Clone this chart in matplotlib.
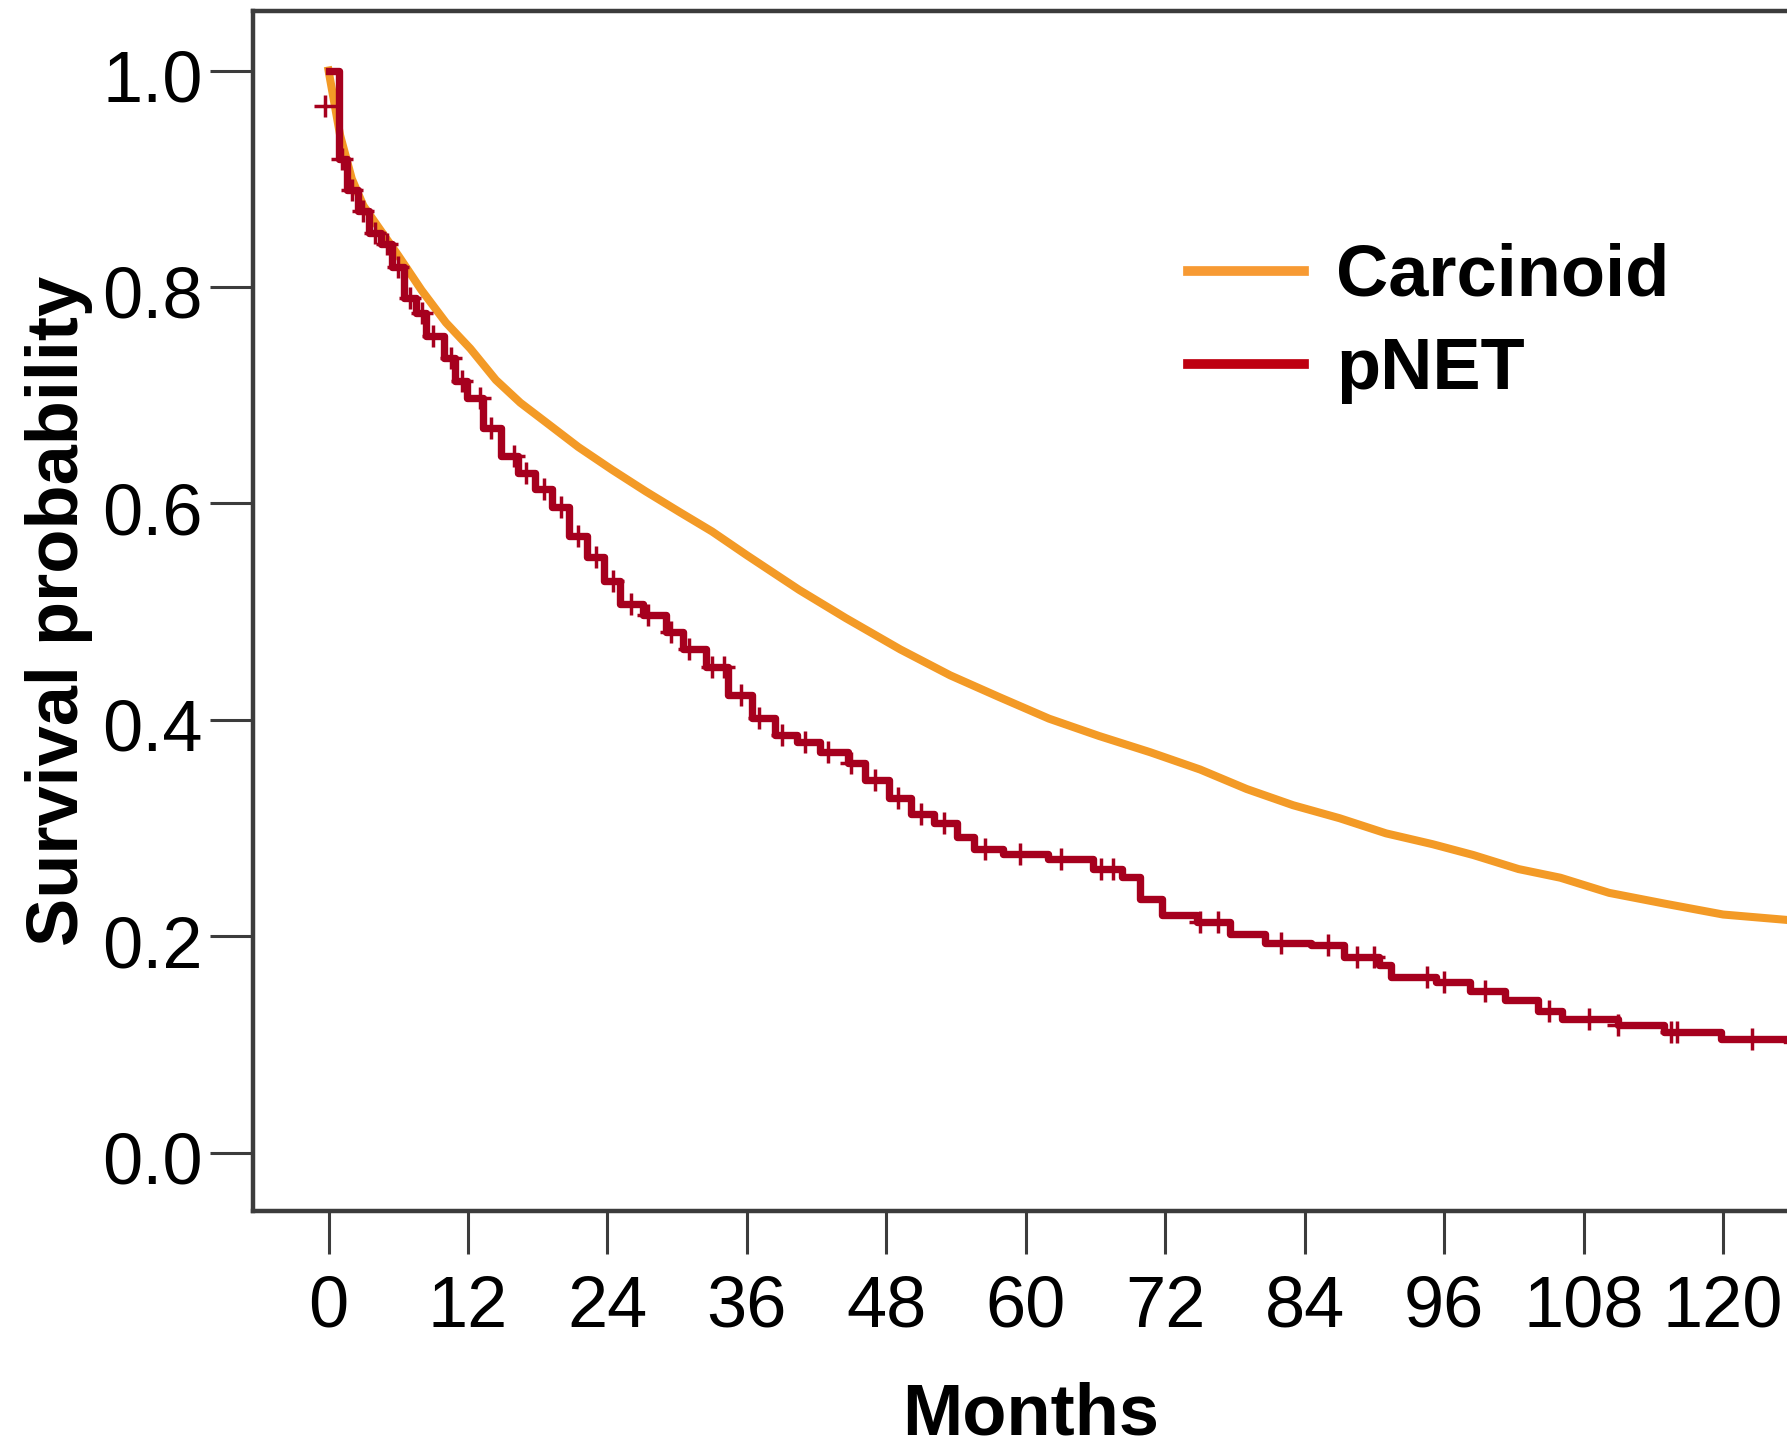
import numpy as np
import matplotlib
matplotlib.use("Agg")
import matplotlib.pyplot as plt
import matplotlib.transforms as mtransforms
from matplotlib.lines import Line2D

plt.rcParams['font.family'] = ['Liberation Sans', 'DejaVu Sans']

# Kaplan-Meier curves (months, survival)
carc_t = [0, 1.0, 2.0, 3.0, 4.5, 6.0, 8.0, 10.1, 12.2, 14.4, 16.5, 18.7, 21.5, 24.4,
          27.3, 30.2, 33.0, 36.0, 40.5, 44.5, 49.2, 53.5, 57.7, 62.0, 66.3, 70.7,
          75.0, 79.0, 83.0, 87.0, 91.0, 95.0, 98.5, 102.4, 106.0, 110.2, 115.0, 120.0,
          125.5]
carc_s = [1.0, 0.94, 0.90, 0.875, 0.852, 0.829, 0.797, 0.767, 0.743, 0.714, 0.693,
          0.675, 0.652, 0.631, 0.611, 0.592, 0.574, 0.552, 0.520, 0.494, 0.465, 0.441,
          0.421, 0.401, 0.385, 0.370, 0.354, 0.336, 0.321, 0.309, 0.295, 0.285, 0.275,
          0.262, 0.254, 0.240, 0.230, 0.220, 0.215]

pnet_t = [0, 0.9, 1.6, 2.5, 3.5, 4.5, 5.5, 6.5, 7.5, 8.4, 9.9, 10.9, 11.9, 13.3, 14.8,
          16.3, 17.8, 19.2, 20.7, 22.2, 23.7, 25.1, 27.1, 29.0, 30.5, 32.5, 34.4, 36.4,
          38.4, 40.3, 42.3, 44.7, 46.2, 48.2, 50.1, 52.1, 54.1, 55.5, 58.0, 61.9, 65.8,
          68.3, 69.8, 71.7, 74.7, 77.6, 80.6, 84.5, 87.4, 90.4, 91.4, 95.3, 98.2, 101.2,
          104.1, 106.1, 111.0, 114.9, 119.8, 125.5]
pnet_s = [1.0, 0.918, 0.89, 0.87, 0.85, 0.84, 0.818, 0.79, 0.776, 0.755, 0.734, 0.713,
          0.697, 0.67, 0.644, 0.628, 0.613, 0.597, 0.57, 0.55, 0.528, 0.507, 0.497, 0.481,
          0.465, 0.449, 0.423, 0.402, 0.386, 0.379, 0.37, 0.36, 0.344, 0.328, 0.313, 0.305,
          0.292, 0.281, 0.276, 0.271, 0.262, 0.255, 0.234, 0.22, 0.213, 0.202, 0.194, 0.192,
          0.181, 0.173, 0.162, 0.158, 0.149, 0.141, 0.131, 0.123, 0.118, 0.111, 0.105, 0.104]

# censored observations (+ marks) on the pNET curve
pnet_cens = [1.2, 2.0, 3.0, 4.0, 5.0, 6.0, 7.0, 8.0, 9.0, 10.5, 11.5, 13.0, 14.0,
             16.0, 17.0, 18.5, 20.0, 21.5, 23.0, 24.5, 26.0, 27.5, 29.5, 31.0, 33.0,
             34.0, 35.5, 37.0, 39.0, 41.0, 43.0, 45.0, 47.0, 49.0, 51.0, 53.0, 56.5,
             59.5, 63.0, 66.5, 67.5, 75.0, 76.5, 82.0, 86.0, 88.5, 90.0, 94.5, 96.0,
             99.5, 105.0, 108.5, 111.0, 115.5, 116.0, 122.5]
# early censored case drawn left of the first drop
pnet_cens0 = (-0.3, 0.967)

xticks = [0, 12, 24, 36, 48, 60, 72, 84, 96, 108, 120]
yticks = [0.0, 0.2, 0.4, 0.6, 0.8, 1.0]

orange = '#F39A26'
red = '#A6001E'
axcol = '#3c3c3c'

fig = plt.figure(figsize=(17.87, 14.53), dpi=100)
ax = fig.add_axes([253 / 1787, 1 - 1211 / 1453, 1 - 253 / 1787, (1211 - 11) / 1453])

ax.plot(carc_t, carc_s, color=orange, lw=5.8)
ax.plot(pnet_t, pnet_s, color=red, lw=5.3, drawstyle='steps-post')

pt = np.array(pnet_t)
ps = np.array(pnet_s)
idx = np.searchsorted(pt, pnet_cens, side='right') - 1
ax.plot(pnet_cens, ps[idx], ls='none', marker='+', ms=16, mew=2.5, color=red)
ax.plot([pnet_cens0[0]], [pnet_cens0[1]], ls='none', marker='+', ms=16, mew=2.5, color=red)

ax.set_xlim(-6.5, 125.5)
ax.set_ylim(-0.054, 1.055)
ax.set_xticks(xticks)
ax.set_yticks(yticks)
ax.set_xticklabels([str(v) for v in xticks])
ax.set_yticklabels(['%.1f' % v for v in yticks])

for side in ['left', 'bottom', 'top']:
    ax.spines[side].set_color(axcol)
    ax.spines[side].set_linewidth(3.2)
ax.spines['right'].set_visible(False)

ax.tick_params(axis='both', direction='out', length=31, width=2.2, color=axcol,
               labelsize=52, labelcolor='black')
ax.tick_params(axis='y', pad=5)
ax.tick_params(axis='x', pad=15)

# y tick labels sit a little below their ticks in the original
shift = mtransforms.ScaledTranslation(0, -0.05, fig.dpi_scale_trans)
for lab in ax.get_yticklabels():
    lab.set_transform(lab.get_transform() + shift)

ax.set_ylabel('Survival probability', fontsize=52, fontweight='bold')
ax.set_xlabel('Months', fontsize=52, fontweight='bold')
ax.yaxis.set_label_coords(-0.104, 0.5)
ax.xaxis.set_label_coords(0.507, -0.142)

handles = [Line2D([], [], color='#F79A33', lw=7),
           Line2D([], [], color='#BE0010', lw=7)]
fig.legend(handles, ['Carcinoid', 'pNET'], loc='upper left',
           bbox_to_anchor=(1188 / 1787, 1 - 243 / 1453), frameon=False,
           prop={'size': 52, 'weight': 'bold'}, handlelength=1.6,
           handletextpad=0.45, labelspacing=0.35, borderpad=0, borderaxespad=0)

fig.savefig('out.png', dpi=100)
